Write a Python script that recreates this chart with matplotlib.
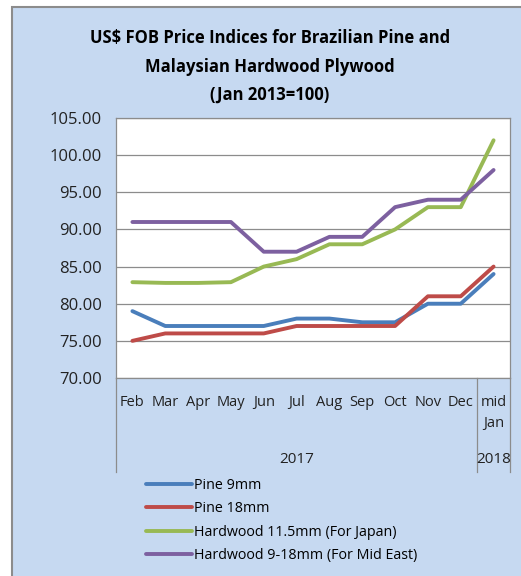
import matplotlib.pyplot as plt
import matplotlib.transforms as mtransforms
from matplotlib.patches import Rectangle

months = ["Feb", "Mar", "Apr", "May", "Jun", "Jul", "Aug", "Sep", "Oct", "Nov", "Dec", "mid\nJan"]
years = ["2017", "2018"]

pine_9 = [79, 77, 77, 77, 77, 78, 78, 77.5, 77.5, 80, 80, 84]
pine_18 = [75, 76, 76, 76, 76, 77, 77, 77, 77, 81, 81, 85]
hw_japan = [82.9, 82.8, 82.8, 82.9, 85, 86, 88, 88, 90, 93, 93, 102]
hw_mideast = [91, 91, 91, 91, 87, 87, 89, 89, 93, 94, 94, 98]

series = [
    ("Pine 9mm", pine_9, "#4A7EBB"),
    ("Pine 18mm", pine_18, "#BE4B48"),
    ("Hardwood 11.5mm (For Japan)", hw_japan, "#98B954"),
    ("Hardwood 9-18mm (For Mid East)", hw_mideast, "#7D60A0"),
]

BG = "#C6D9F1"
W, H = 521, 576

fig = plt.figure(figsize=(W / 100, H / 100), dpi=100)
fig.patch.set_facecolor("white")

# chart area background with gray border (runs off right/bottom edge)
fig.patches.append(Rectangle((12 / W, -0.1), 1, 1.1 - 7 / H, transform=fig.transFigure,
                             facecolor=BG, edgecolor="#8C8C8C", linewidth=1.5, zorder=-10))

ax = fig.add_axes([116 / W, 1 - 378 / H, (510 - 116) / W, (378 - 118) / H])
ax.set_facecolor("white")

x = list(range(len(months)))
for name, vals, col in series:
    ax.plot(x, vals, color=col, linewidth=2.8, solid_capstyle="round", label=name)

ax.set_xlim(-0.5, len(months) - 0.5)
ax.set_ylim(70, 105)
ax.set_yticks([70, 75, 80, 85, 90, 95, 100, 105])
ax.set_yticklabels([f"{v:.2f}" for v in ax.get_yticks()], fontsize=12, family="Open Sans",
                   color="#222222")
ax.yaxis.grid(True, color="#8C8C8C", linewidth=0.9)
ax.set_axisbelow(True)
ax.tick_params(axis="y", length=0, pad=10)
ax.tick_params(axis="x", length=0, labelbottom=False)
for s in ax.spines.values():
    s.set_color("#8C8C8C")
    s.set_linewidth(0.9)

# category axis: month labels, year groups and separators
trans = mtransforms.blended_transform_factory(ax.transData, ax.transAxes)
for i, m in enumerate(months):
    ax.text(i, -0.065, m, transform=trans, ha="center", va="top", fontsize=10.5,
            family="Open Sans", color="#222222", linespacing=1.55)
ax.text(5, -0.315, years[0], transform=trans, ha="center", va="center", fontsize=11,
        family="Open Sans", color="#222222")
ax.text(11, -0.315, years[1], transform=trans, ha="center", va="center", fontsize=11,
        family="Open Sans", color="#222222")
for bx in [-0.5, 10.5, 11.5]:
    ax.plot([bx, bx], [0, -0.36], transform=trans, color="#8C8C8C", linewidth=0.9, clip_on=False)

fig.text(270 / W, 1 - 38 / H, "US$ FOB Price Indices for Brazilian Pine and", ha="center", va="center",
         fontsize=12, fontweight="bold", family="Open Sans")
fig.text(270 / W, 1 - 67 / H, "Malaysian Hardwood Plywood", ha="center", va="center",
         fontsize=12, fontweight="bold", family="Open Sans")
fig.text(270 / W, 1 - 95 / H, "(Jan 2013=100)", ha="center", va="center",
         fontsize=12, fontweight="bold", family="Open Sans")

leg = fig.legend(loc="upper left", bbox_to_anchor=(140 / W, 1 - 472 / H), frameon=False,
                 prop={"family": "Open Sans", "size": 10.3}, handlelength=3.2, handletextpad=0.2,
                 labelspacing=0.6, borderaxespad=0)

fig.savefig("out.png", dpi=100, facecolor=fig.get_facecolor())
